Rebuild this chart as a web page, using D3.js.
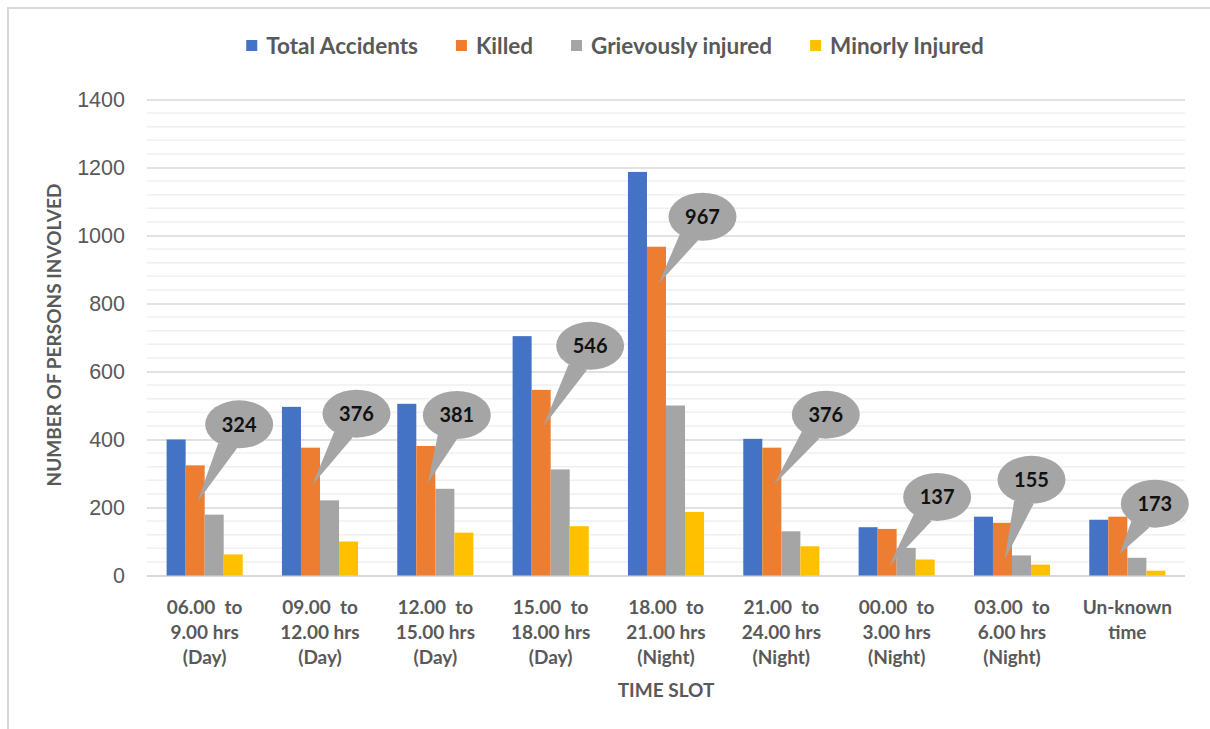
<!DOCTYPE html>
<html>
<head>
<meta charset="utf-8">
<script src="https://cdn.jsdelivr.net/npm/d3@7"></script>
<style>
  body { margin: 0; background: #fff; }
  svg { display: block; }
</style>
</head>
<body>
<svg id="chart" width="1210" height="729"></svg>
<script>
// ---- data ----
const timeSlots = ['06-09', '09-12', '12-15', '15-18', '18-21', '21-24', '00-03', '03-06', 'unknown'];
const slotLabels = [
  ['06.00  to', '9.00 hrs', '(Day)'],
  ['09.00  to', '12.00 hrs', '(Day)'],
  ['12.00  to', '15.00 hrs', '(Day)'],
  ['15.00  to', '18.00 hrs', '(Day)'],
  ['18.00  to', '21.00 hrs', '(Night)'],
  ['21.00  to', '24.00 hrs', '(Night)'],
  ['00.00  to', '3.00 hrs', '(Night)'],
  ['03.00  to', '6.00 hrs', '(Night)'],
  ['Un-known', 'time']
];
const seriesNames = ['Total Accidents', 'Killed', 'Grievously injured', 'Minorly Injured'];
const totalAccidents = [400, 496, 505, 704, 1187, 402, 142, 173, 164];
const killed = [324, 376, 381, 546, 967, 376, 137, 155, 173];
const grievouslyInjured = [179, 221, 255, 312, 500, 130, 81, 59, 52];
const minorlyInjured = [62, 100, 126, 145, 187, 86, 47, 32, 14];
const yTicks = [0, 200, 400, 600, 800, 1000, 1200, 1400];

const seriesColors = ['#4472C4', '#ED7D31', '#A5A5A5', '#FFC000'];
// balloon centre relative to the pointer tip, the balloons were dragged by hand
const calloutOffsets = [[42, -78], [44, -71], [29, -68], [47, -81], [44, -67], [52, -70], [48, -69], [27, -80], [35, -50]];

const seriesValues = [totalAccidents, killed, grievouslyInjured, minorlyInjured];
const rows = timeSlots.map((slot, i) => ({ slot, values: seriesValues.map(s => s[i]) }));

const textGrey = '#595959';
const boldFont = "Lato, 'Open Sans', sans-serif";
const plainFont = "'Liberation Sans', Arial, sans-serif";

const svg = d3.select('#chart');

// outer chart border (only top and left show in the picture)
svg.append('path')
  .attr('d', 'M8,729 L8,8 L1210,8')
  .attr('fill', 'none')
  .attr('stroke', '#d9d9d9')
  .attr('stroke-width', 2);

const plotLeft = 147;
const plotRight = 1185;

const yScale = d3.scaleLinear()
  .domain([0, 1400])
  .range([575.5, 99.5]);

const xScale = d3.scaleBand()
  .domain(timeSlots)
  .range([plotLeft, plotRight])
  .paddingInner(0.34)
  .paddingOuter(0.17);

const xSub = d3.scaleBand()
  .domain(d3.range(seriesNames.length))
  .range([0, xScale.bandwidth()]);

// minor gridlines every 40
svg.append('g')
  .selectAll('line')
  .data(d3.range(40, 1400, 40).filter(v => v % 200 !== 0))
  .enter()
  .append('line')
  .attr('x1', plotLeft)
  .attr('x2', plotRight)
  .attr('y1', d => yScale(d))
  .attr('y2', d => yScale(d))
  .attr('stroke', '#f0f0f0')
  .attr('stroke-width', 1.5);

// y axis: major gridlines + labels
const yAxis = d3.axisLeft(yScale)
  .tickValues(yTicks)
  .tickSize(-(plotRight - plotLeft))
  .tickPadding(22)
  .tickFormat(d3.format('d'));

svg.append('g')
  .attr('transform', `translate(${plotLeft},0)`)
  .call(yAxis)
  .call(g => g.select('.domain').remove())
  .call(g => g.selectAll('.tick line')
    .attr('stroke', '#d9d9d9')
    .attr('stroke-width', d => d === 0 ? 2 : 1.5))
  .call(g => g.selectAll('.tick text')
    .attr('fill', textGrey)
    .attr('font-family', plainFont)
    .attr('font-size', '21.5px'));

// bars
svg.append('g')
  .selectAll('g')
  .data(rows)
  .enter()
  .append('g')
  .attr('transform', d => `translate(${xScale(d.slot)},0)`)
  .selectAll('rect')
  .data(d => d.values)
  .enter()
  .append('rect')
  .attr('x', (v, i) => xSub(i))
  .attr('width', xSub.bandwidth())
  .attr('y', v => yScale(v))
  .attr('height', v => yScale(0) - yScale(v))
  .attr('fill', (v, i) => seriesColors[i]);

// x labels
const xLabels = svg.append('g');
timeSlots.forEach((slot, i) => {
  const t = xLabels.append('text')
    .attr('x', xScale(slot) + xScale.bandwidth() / 2)
    .attr('y', 614)
    .attr('text-anchor', 'middle')
    .attr('font-family', boldFont)
    .attr('font-weight', 'bold')
    .attr('font-size', '19px')
    .attr('fill', textGrey)
    .style('white-space', 'pre');
  slotLabels[i].forEach((line, j) => {
    t.append('tspan')
      .attr('x', xScale(slot) + xScale.bandwidth() / 2)
      .attr('dy', j === 0 ? 0 : 25)
      .text(line);
  });
});

// axis titles
svg.append('text')
  .attr('x', (plotLeft + plotRight) / 2)
  .attr('y', 697)
  .attr('text-anchor', 'middle')
  .attr('font-family', boldFont)
  .attr('font-weight', 'bold')
  .attr('font-size', '19px')
  .attr('fill', textGrey)
  .text('TIME SLOT');

svg.append('text')
  .attr('transform', 'translate(61,335) rotate(-90)')
  .attr('text-anchor', 'middle')
  .attr('font-family', boldFont)
  .attr('font-weight', 'bold')
  .attr('font-size', '19px')
  .attr('fill', textGrey)
  .text('NUMBER OF PERSONS INVOLVED');

// callouts on the Killed bars
const rx = 34;
const ry = 24;
const callouts = svg.append('g');
rows.forEach((d, i) => {
  const tipX = xScale(d.slot) + xSub(1) + xSub.bandwidth() / 2 + 2;
  const tipY = yScale(killed[i]) + 37;
  const cx = tipX + calloutOffsets[i][0];
  const cy = tipY + calloutOffsets[i][1];
  const ang = Math.atan2((tipY - cy) / ry, (tipX - cx) / rx);
  const p1 = [cx + rx * Math.cos(ang - 0.3), cy + ry * Math.sin(ang - 0.3)];
  const p2 = [cx + rx * Math.cos(ang + 0.3), cy + ry * Math.sin(ang + 0.3)];
  callouts.append('path')
    .attr('d', `M${p1[0]},${p1[1]} L${tipX},${tipY} L${p2[0]},${p2[1]} Z`)
    .attr('fill', '#A5A5A5');
  callouts.append('ellipse')
    .attr('cx', cx)
    .attr('cy', cy)
    .attr('rx', rx)
    .attr('ry', ry)
    .attr('fill', '#A5A5A5');
  callouts.append('text')
    .attr('x', cx)
    .attr('y', cy)
    .attr('dy', '0.36em')
    .attr('text-anchor', 'middle')
    .attr('font-family', boldFont)
    .attr('font-weight', 'bold')
    .attr('font-size', '20px')
    .attr('fill', '#111')
    .text(killed[i]);
});

// legend
const legend = svg.append('g');
let lx = 0;
const items = [];
seriesNames.forEach((name, i) => {
  const g = legend.append('g');
  g.append('rect')
    .attr('x', 0)
    .attr('y', 40)
    .attr('width', 11)
    .attr('height', 11)
    .attr('fill', seriesColors[i]);
  const t = g.append('text')
    .attr('x', 20)
    .attr('y', 46)
    .attr('dy', '0.35em')
    .attr('font-family', boldFont)
    .attr('font-weight', 'bold')
    .attr('font-size', '22.5px')
    .attr('fill', textGrey)
    .text(name);
  items.push({ g, w: 20 + t.node().getComputedTextLength() });
});
const gap = 38;
const totalW = d3.sum(items, d => d.w) + gap * (items.length - 1);
lx = 615 - totalW / 2;
items.forEach(it => {
  it.g.attr('transform', `translate(${lx},0)`);
  lx += it.w + gap;
});
</script>
</body>
</html>
